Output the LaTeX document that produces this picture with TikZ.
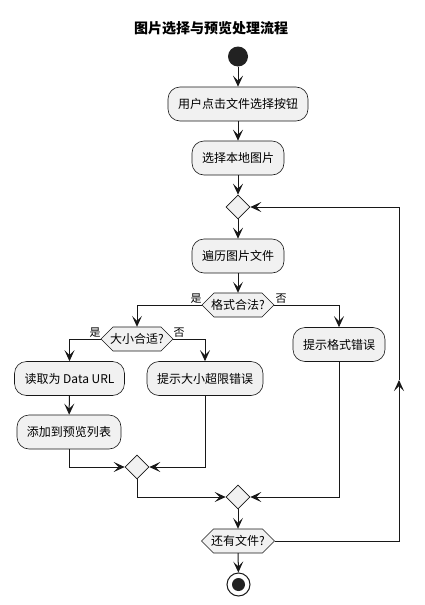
\documentclass[tikz,border=0pt]{standalone}
\usepackage{fontspec}
\setmainfont{Noto Sans CJK SC}
\usetikzlibrary{shapes.geometric,arrows.meta,calc}
\definecolor{bfill}{HTML}{F1F1F1}
\definecolor{bline}{HTML}{181818}
\definecolor{dot}{HTML}{222222}
\tikzset{
  actbox/.style={draw=bline, fill=bfill, line width=0.6pt, rounded corners=12pt,
    minimum height=34pt, inner xsep=10pt, font=\fontsize{12}{14}\selectfont},
  mergept/.style={draw=bline, fill=bfill, line width=0.6pt, diamond, minimum width=24pt,
    minimum height=24pt, inner sep=0pt, aspect=1},
  hexlbl/.style={minimum height=24pt, inner sep=0pt, font=\fontsize{12}{14}\selectfont},
  hexline/.style={draw=bline, fill=bfill, line width=0.6pt},
  conn/.style={draw=bline, line width=1pt},
  arr/.style={conn, -{Stealth[length=11pt, width=10pt, inset=5pt]}},
  lbl/.style={font=\fontsize{11}{13}\selectfont, inner sep=0pt}
}
\newcommand\hexnode[5]{%
  \filldraw[hexline] (#2-#4/2,#3) -- (#2-#4/2+12,#3-12) -- (#2+#4/2-12,#3-12) -- (#2+#4/2,#3)
    -- (#2+#4/2-12,#3+12) -- (#2-#4/2+12,#3+12) -- cycle;
  \node[hexlbl, minimum width=#4] (#1) at (#2,#3) {#5};}
\begin{document}
\begin{tikzpicture}[x=1pt, y=-1pt]
\useasboundingbox (0,0) rectangle (424,605);
\node[font=\fontsize{14}{16}\selectfont\bfseries] (title) at (211,28) {图片选择与预览处理流程};
\node[circle, fill=dot, minimum size=20pt, inner sep=0pt] (start) at (238,56.5) {};
\node[actbox] (b1) at (238,104) {用户点击文件选择按钮};
\node[actbox] (b2) at (238,158) {选择本地图片};
\node[mergept] (m1) at (238,207) {};
\node[actbox] (b3) at (238,256) {遍历图片文件};
\hexnode{h1}{238}{305}{72}{格式合法?}
\hexnode{h2}{137}{339}{72}{大小合适?}
\node[actbox] (b4) at (339,344.5) {提示格式错误};
\node[actbox] (b5) at (69.5,378.5) {读取为 Data URL};
\node[actbox] (b6) at (205,378.5) {提示大小超限错误};
\node[actbox] (b7) at (69,432) {添加到预览列表};
\node[mergept] (m2) at (137,467) {};
\node[mergept] (m3) at (238,497) {};
\hexnode{h3}{238}{541}{73}{还有文件?}
\node[circle, draw=bline, line width=1pt, fill=white, minimum size=23pt, inner sep=0pt] (stop) at (238.5,584.5) {};
\node[circle, fill=dot, minimum size=13pt, inner sep=0pt] (stopin) at (238.5,584.5) {};
\coordinate (lp) at (399,380);
% connectors
\draw[arr] (start) -- (b1);
\draw[arr] (b1) -- (b2);
\draw[arr] (b2) -- (m1);
\draw[arr] (m1) -- (b3);
\draw[arr] (b3) -- (h1);
\draw[arr] (h1.west) -| (h2.north);
\draw[arr] (h1.east) -| (b4.north);
\draw[arr] (h2.west) -| (b5.north);
\draw[arr] (h2.east) -| (b6.north);
\draw[arr] (b5) -- (b7);
\draw[arr] (b7.south) |- (m2.west);
\draw[arr] (b6.south) |- (m2.east);
\draw[arr] (m2.south) |- (m3.west);
\draw[arr] (b4.south) |- (m3.east);
\draw[arr] (m3) -- (h3);
\draw[arr] (h3) -- (stop);
\draw[arr] (h3.east) -| (lp);
\draw[arr] (lp) |- (m1.east);
% labels
\node[lbl] (y1) at (196,299) {是};
\node[lbl] (n1) at (281,299) {否};
\node[lbl] (y2) at (95,333) {是};
\node[lbl] (n2) at (179,333) {否};
\end{tikzpicture}
\end{document}
